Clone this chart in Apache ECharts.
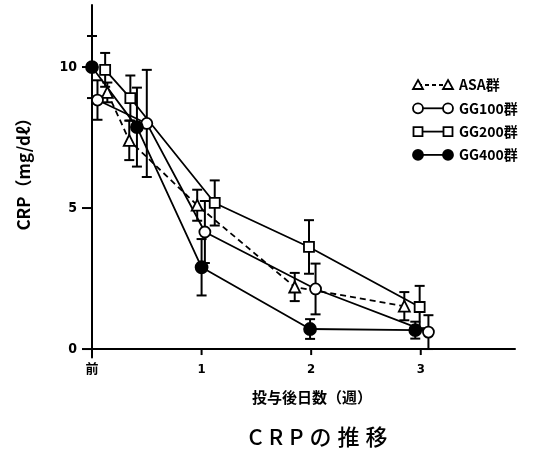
<!DOCTYPE html>
<html>
<head>
<meta charset="utf-8">
<script src="https://cdn.jsdelivr.net/npm/echarts@6/dist/echarts.min.js"></script>
<style>
  html, body { margin: 0; padding: 0; background: #fff; }
  #chart { width: 545px; height: 452px; }
</style>
</head>
<body>
<div id="chart"></div>
<script>
// Week ticks on the x axis and their labels; CRP ticks on the y axis
const weekTicks = [0, 1, 2, 3];
const weekLabels = ['前', '1', '2', '3'];
const crpTicks = [0, 5, 10];

// Group names
const groupNames = ['ASA群', 'GG100群', 'GG200群', 'GG400群'];

// Measurement time (weeks), mean CRP (mg/dl) and error (±) for each group
const asaX = [0.14, 0.34, 0.96, 1.85, 2.85];
const asaY = [9.1, 7.4, 5.1, 2.2, 1.52];
const asaErr = [0.35, 0.7, 0.55, 0.5, 0.5];

const gg100X = [0.05, 0.5, 1.03, 2.04, 3.07];
const gg100Y = [8.83, 8.0, 4.15, 2.13, 0.6];
const gg100Err = [0.7, 1.9, 1.1, 0.9, 0.6];

const gg200X = [0.12, 0.35, 1.12, 1.98, 2.99];
const gg200Y = [9.9, 8.9, 5.18, 3.62, 1.49];
const gg200Err = [0.6, 0.8, 0.8, 0.95, 0.75];

const gg400X = [0.0, 0.41, 1.0, 1.99, 2.95];
const gg400Y = [10.0, 7.87, 2.9, 0.71, 0.67];
const gg400Err = [1.1, 1.4, 1.0, 0.35, 0.3];

const INK = '#000';
const JP = '"Noto Sans CJK JP", "Noto Sans", sans-serif';
const NUM = '"DejaVu Sans Condensed", "Noto Sans CJK JP", sans-serif';

// Plot area scale: x 0..3.86 weeks, y -0.3..12.2 mg/dl
const X_MAX = 3.86, Y_MIN = -0.3, Y_MAX = 12.2;
const PLOT = { left: 92, right: 30, top: 5, bottom: 94.5 };
const TICK_X = 6, TICK_Y = 10;

function points(xs, ys) {
  return xs.map((x, i) => [x, ys[i]]);
}
function bars(xs, ys, es) {
  return xs.map((x, i) => [x, ys[i] - es[i], ys[i] + es[i]]);
}

function errorBarSeries(xs, ys, es) {
  return {
    type: 'custom',
    z: 1,
    silent: true,
    encode: { x: 0, y: [1, 2] },
    data: bars(xs, ys, es),
    renderItem(params, api) {
      const x = api.value(0);
      const lo = api.coord([x, api.value(1)]);
      const hi = api.coord([x, api.value(2)]);
      const cap = 5;
      const style = { stroke: INK, lineWidth: 2 };
      return {
        type: 'group',
        children: [
          { type: 'line', shape: { x1: hi[0], y1: hi[1], x2: lo[0], y2: lo[1] }, style },
          { type: 'line', shape: { x1: hi[0] - cap, y1: hi[1], x2: hi[0] + cap, y2: hi[1] }, style },
          { type: 'line', shape: { x1: lo[0] - cap, y1: lo[1], x2: lo[0] + cap, y2: lo[1] }, style }
        ]
      };
    }
  };
}

// Axis tick marks and their labels, placed through the axis scales
function xTickSeries() {
  return {
    type: 'custom', z: 2, silent: true, clip: false,
    data: weekTicks.map((v, i) => [v, 0, i]),
    renderItem(params, api) {
      const p = api.coord([api.value(0), 0]);
      return {
        type: 'group',
        children: [
          { type: 'line', shape: { x1: p[0], y1: p[1], x2: p[0], y2: p[1] + TICK_X },
            style: { stroke: INK, lineWidth: 2 } },
          { type: 'text', x: p[0], y: p[1] + 21,
            style: { text: weekLabels[api.value(2)], fill: INK, font: 'bold 13px ' + NUM,
                     align: 'center', verticalAlign: 'middle' } }
        ]
      };
    }
  };
}
function yTickSeries() {
  return {
    type: 'custom', z: 2, silent: true, clip: false,
    data: crpTicks.map(v => [0, v]),
    renderItem(params, api) {
      const p = api.coord([0, api.value(1)]);
      return {
        type: 'group',
        children: [
          { type: 'line', shape: { x1: p[0] - TICK_Y, y1: p[1], x2: p[0], y2: p[1] },
            style: { stroke: INK, lineWidth: 2 } },
          { type: 'text', x: p[0] - TICK_Y - 5, y: p[1],
            style: { text: String(api.value(1)), fill: INK, font: 'bold 14px ' + NUM,
                     align: 'right', verticalAlign: 'middle' } }
        ]
      };
    }
  };
}

function lineSeries(name, xs, ys, symbol, size, fill, dashed) {
  return {
    name,
    type: 'line',
    z: 3,
    data: points(xs, ys),
    symbol,
    symbolSize: size,
    showAllSymbol: true,
    itemStyle: { color: fill, borderColor: INK, borderWidth: 1.8 },
    lineStyle: { color: INK, width: 1.8, type: dashed ? [6, 4] : 'solid' },
    emphasis: { disabled: true },
    animation: false
  };
}

// Legend drawn as marker — line — marker followed by the group name
const legendRows = [
  { shape: 'triangle', fill: '#fff', dashed: true },
  { shape: 'circle', fill: '#fff', dashed: false },
  { shape: 'rect', fill: '#fff', dashed: false },
  { shape: 'circle', fill: INK, dashed: false }
];
function legendMarker(shape, cx, cy, fill) {
  const style = { fill, stroke: INK, lineWidth: 1.8 };
  if (shape === 'circle') {
    return { type: 'circle', shape: { cx, cy, r: 5 }, style, z: 10 };
  }
  if (shape === 'rect') {
    return { type: 'rect', shape: { x: cx - 4.5, y: cy - 4.5, width: 9, height: 9 }, style, z: 10 };
  }
  return { type: 'polygon', shape: { points: [[cx, cy - 5], [cx + 5, cy + 4], [cx - 5, cy + 4]] }, style, z: 10 };
}
const legendGraphics = [];
legendRows.forEach((row, i) => {
  const cy = 85 + i * 23.3;
  const x1 = 418, x2 = 448;
  legendGraphics.push({
    type: 'line',
    shape: { x1, y1: cy, x2, y2: cy },
    style: { stroke: INK, lineWidth: 1.8, lineDash: row.dashed ? [4, 3] : null },
    z: 9
  });
  legendGraphics.push(legendMarker(row.shape, x1, cy, row.fill));
  legendGraphics.push(legendMarker(row.shape, x2, cy, row.fill));
  legendGraphics.push({
    type: 'text',
    x: 459, y: cy,
    style: {
      text: groupNames[i], fill: INK,
      font: 'bold 14px ' + JP,
      verticalAlign: 'middle'
    },
    z: 10
  });
});

const chart = echarts.init(document.getElementById('chart'), null, { renderer: 'canvas' });
chart.setOption({
  backgroundColor: '#fff',
  animation: false,
  grid: Object.assign({ containLabel: false }, PLOT),
  xAxis: {
    type: 'value', min: 0, max: X_MAX,
    splitLine: { show: false },
    axisLine: { onZero: true, lineStyle: { color: INK, width: 2 } },
    axisTick: { show: false },
    axisLabel: { show: false }
  },
  yAxis: {
    type: 'value', min: Y_MIN, max: Y_MAX,
    splitLine: { show: false },
    axisLine: { show: true, onZero: false, lineStyle: { color: INK, width: 2 } },
    axisTick: { show: false },
    axisLabel: { show: false }
  },
  graphic: [
    {
      type: 'text',
      x: 24, y: 170, rotation: Math.PI / 2,
      style: {
        text: 'CRP（mg/dℓ）', fill: INK, font: 'bold 17px ' + JP,
        align: 'center', verticalAlign: 'middle'
      }
    },
    {
      type: 'text',
      x: 312, y: 397,
      style: {
        text: '投与後日数（週）', fill: INK, font: 'bold 15px ' + JP,
        align: 'center', verticalAlign: 'middle'
      }
    },
    {
      type: 'text',
      x: 318, y: 437,
      style: {
        text: '{c|C}{c|R}{c|P}{c|の}{c|推}{c|移}',
        align: 'center', verticalAlign: 'middle',
        rich: { c: { fontSize: 22, fontFamily: JP, fontWeight: 500, color: INK, padding: [0, 3] } }
      }
    },
    ...legendGraphics
  ],
  series: [
    xTickSeries(),
    yTickSeries(),
    errorBarSeries(asaX, asaY, asaErr),
    errorBarSeries(gg100X, gg100Y, gg100Err),
    errorBarSeries(gg200X, gg200Y, gg200Err),
    errorBarSeries(gg400X, gg400Y, gg400Err),
    lineSeries(groupNames[0], asaX, asaY, 'triangle', 11, '#fff', true),
    lineSeries(groupNames[1], gg100X, gg100Y, 'circle', 11, '#fff', false),
    lineSeries(groupNames[2], gg200X, gg200Y, 'rect', 10, '#fff', false),
    lineSeries(groupNames[3], gg400X, gg400Y, 'circle', 12, INK, false)
  ]
});
</script>
</body>
</html>
